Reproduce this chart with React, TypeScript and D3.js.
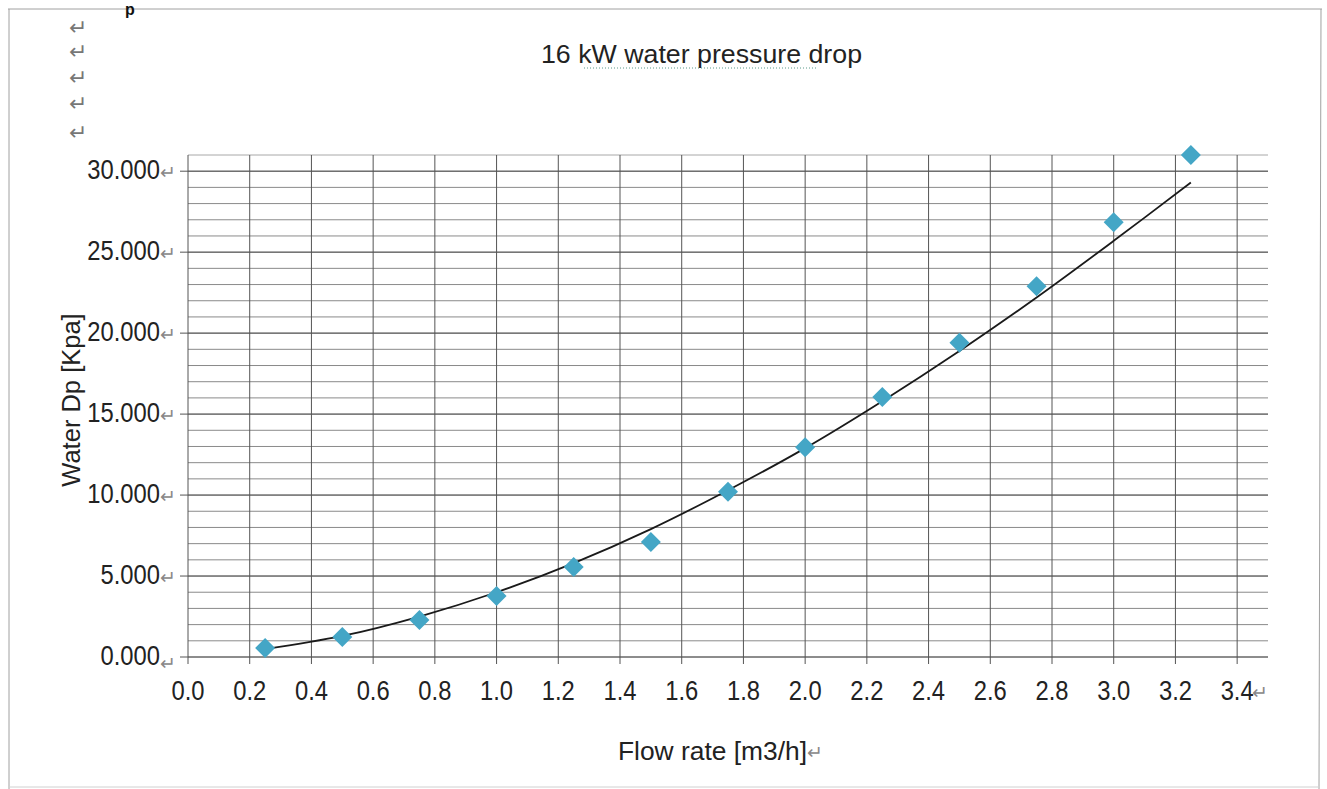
import React from 'react';
import * as d3 from 'd3';

const W = 1327;
const H = 789;

// values (kPa vs m3/h)
const flowRates = [0.25, 0.5, 0.75, 1.0, 1.25, 1.5, 1.75, 2.0, 2.25, 2.5, 2.75, 3.0, 3.25];
const pressureDrop = [0.56, 1.23, 2.28, 3.77, 5.56, 7.1, 10.2, 12.96, 16.05, 19.4, 22.9, 26.85, 31.0];
const trendDrop = [0.49, 1.3, 2.5, 4.0, 5.8, 7.9, 10.3, 12.9, 15.8, 18.9, 22.2, 25.7, 29.3];

const xTickLabels = ['0.0', '0.2', '0.4', '0.6', '0.8', '1.0', '1.2', '1.4', '1.6', '1.8', '2.0', '2.2', '2.4', '2.6', '2.8', '3.0', '3.2', '3.4'];
const yTickLabels = ['0.000', '5.000', '10.000', '15.000', '20.000', '25.000', '30.000'];
const yMinorTicks = d3.range(0, 32, 1);

const title = '16 kW water  pressure drop';
const xTitle = 'Flow rate [m3/h]';
const yTitle = 'Water Dp [Kpa]';

const FONT = 'Arial, "Liberation Sans", sans-serif';
const RET = '\u21B5';

function Squeezed(props: { x: number; y: number; text: string; size: number; sx: number; anchor?: string }) {
  const { x, y, text, size, sx, anchor } = props;
  return (
    <text
      transform={`translate(${x},${y}) scale(${sx},1)`}
      fontSize={size}
      fontFamily={FONT}
      fill="#222"
      textAnchor={anchor || 'start'}
    >
      {text}
    </text>
  );
}

export default function App() {
  const x = d3.scaleLinear().domain([0, 3.5]).range([188, 1268]);
  const y = d3.scaleLinear().domain([0, 31]).range([657, 155]);

  const trend = d3
    .line<number>()
    .x((d, i) => x(flowRates[i]))
    .y(d => y(d))
    .curve(d3.curveCatmullRom)(trendDrop);

  const diamond = d3.symbol().type(d3.symbolSquare).size(200)();

  return (
    <svg width={W} height={H} style={{ position: 'absolute', left: 0, top: 0, background: '#fff' }}>
      {/* page frame */}
      <line x1={8} y1={9} x2={1322} y2={9} stroke="#a0a0a0" />
      <line x1={9} y1={9} x2={9} y2={H} stroke="#a0a0a0" />
      <line x1={1321} y1={9} x2={1319} y2={H} stroke="#a0a0a0" />
      <line x1={9} y1={787} x2={1320} y2={787} stroke="#d0d0d0" />
      <text x={125} y={15} fontSize={16} fontWeight="bold" fontFamily={FONT} fill="#111">p</text>

      {/* paragraph marks column */}
      {[35, 59, 85, 111, 140].map((py, i) => (
        <text key={i} x={69} y={py} fontSize={22} fontFamily={FONT} fill="#777">{RET}</text>
      ))}

      {/* title */}
      <text x={541} y={63} fontSize={25} fontFamily={FONT} fill="#222" textLength={321} lengthAdjust="spacingAndGlyphs">
        {title}
      </text>
      <line x1={584} y1={68} x2={816} y2={68} stroke="#5a9a8a" strokeDasharray="1,2" />

      {/* minor horizontal grid */}
      {yMinorTicks.map(v => (
        <line key={'m' + v} x1={x(0)} x2={x(3.5)} y1={y(v)} y2={y(v)} stroke={v === 31 ? '#a8a8a8' : '#8a8a8a'} />
      ))}
      {/* major horizontal grid + ticks */}
      {yTickLabels.map(t => {
        const v = parseFloat(t);
        return (
          <g key={'y' + t}>
            <line x1={180} x2={x(3.5)} y1={y(v)} y2={y(v)} stroke="#555" />
            <Squeezed x={160} y={y(v) + 8} text={t} size={27} sx={0.88} anchor="end" />
            <text x={160} y={y(v) + (v === 0 ? 13 : 8)} fontSize={19} fontFamily={FONT} fill="#888">{RET}</text>
          </g>
        );
      })}
      {/* vertical grid + x ticks */}
      {xTickLabels.map(t => {
        const v = parseFloat(t);
        return (
          <g key={'x' + t}>
            <line x1={x(v)} x2={x(v)} y1={y(31)} y2={664} stroke="#555" />
            <Squeezed x={x(v)} y={700} text={t} size={27} sx={0.88} anchor="middle" />
          </g>
        );
      })}
      <text x={x(3.4) + 15} y={699} fontSize={19} fontFamily={FONT} fill="#888">{RET}</text>

      {/* trend line */}
      <path d={trend || ''} fill="none" stroke="#1a1a1a" strokeWidth={1.8} />

      {/* data points */}
      {pressureDrop.map((v, i) => (
        <path
          key={'p' + i}
          d={diamond || ''}
          transform={`translate(${x(flowRates[i])},${y(v)}) rotate(45)`}
          fill="#44a6c6"
        />
      ))}

      {/* axis titles */}
      <text x={618} y={760} fontSize={25} fontFamily={FONT} fill="#222" textLength={189} lengthAdjust="spacingAndGlyphs">
        {xTitle}
      </text>
      <text x={807} y={759} fontSize={19} fontFamily={FONT} fill="#888">{RET}</text>
      <text
        transform="translate(80,400) rotate(-90)"
        fontSize={25.5}
        fontFamily={FONT}
        fill="#222"
        textAnchor="middle"
      >
        {yTitle}
      </text>
    </svg>
  );
}
